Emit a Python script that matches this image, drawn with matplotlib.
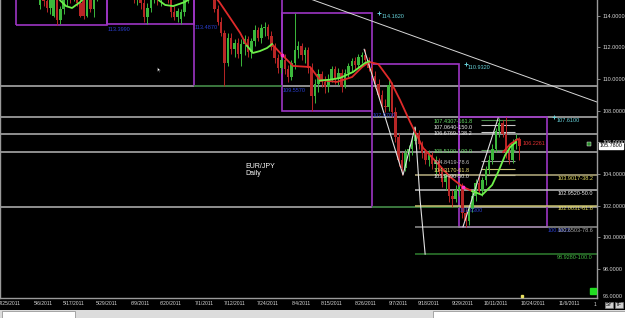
import matplotlib
matplotlib.use('Agg')
import matplotlib.pyplot as plt
import matplotlib.transforms as mtransforms
from matplotlib.patches import Rectangle
import pandas as pd

plt.rcParams['font.family'] = ['Liberation Sans', 'DejaVu Sans']

# daily bars, Sunday..Friday sessions (no Saturday)
all_days = pd.date_range('2011-04-21', '2011-11-20', freq='D')
bar_dates = all_days[all_days.dayofweek != 5]
first_bar = 11

opens = [116.6, 114.7, 115.8, 114.9, 114.5, 114.0, 115.2, 113.7, 114.4, 115.0,
         115.5, 115.1, 115.7, 114.8, 115.1, 114.0, 115.0, 114.4, 115.4, 115.9,
         116.4, 116.8, 116.5, 117.3, 117.6, 117.1, 116.7, 117.0, 116.1, 115.7,
         115.3, 115.8, 114.8, 113.9, 114.5, 115.2, 115.6, 115.0, 115.5, 115.8,
         115.0, 114.2, 113.9, 113.8, 114.2, 115.0, 115.7, 116.3, 116.8, 117.1,
         116.8, 116.3, 115.8, 115.4, 114.4, 113.6, 112.9, 111.0, 112.6, 111.9,
         112.3, 111.6, 112.2, 112.5, 111.7, 112.4, 113.1, 112.6, 113.2, 113.3,
         112.7, 112.0, 111.3, 110.7, 111.2, 110.6, 110.1, 111.0, 111.8, 112.1,
         111.5, 111.8, 110.7, 108.9, 109.7, 110.3, 109.8, 109.5, 110.0, 110.6,
         110.0, 110.4, 109.5, 110.4, 110.8, 111.1, 110.9, 111.4, 111.5, 111.2,
         110.7, 110.2, 109.7, 109.0, 108.3, 108.2, 109.6, 107.9, 106.3, 104.9,
         104.4, 105.3, 105.6, 106.1, 106.6, 105.9, 105.3, 104.9, 105.2, 104.6,
         104.8, 104.1, 103.5, 103.9, 102.6, 102.4, 103.0, 103.2, 101.5, 101.0,
         101.8, 102.6, 103.4, 102.9, 103.6, 104.3, 104.9, 105.6, 106.7, 107.2,
         106.5, 105.3, 104.9, 105.9, 106.2]
highs = [117.2, 116.0, 116.2, 115.3, 115.6, 115.5, 115.5, 114.6, 115.3, 115.8,
         115.9, 116.0, 116.0, 115.2, 115.4, 115.3, 115.4, 115.6, 116.2, 116.7,
         117.0, 117.4, 117.6, 117.9, 118.0, 117.6, 117.3, 117.2, 116.6, 116.2,
         116.0, 116.0, 115.1, 114.8, 115.4, 115.9, 115.8, 115.8, 116.0, 116.0,
         115.3, 114.6, 114.5, 114.4, 115.2, 115.9, 116.6, 117.0, 117.4, 117.6,
         117.2, 116.6, 116.1, 115.6, 114.7, 113.9, 113.1, 112.9, 112.9, 112.5,
         112.6, 112.5, 112.8, 112.7, 112.6, 113.4, 113.3, 113.5, 113.6, 113.5,
         113.0, 112.3, 111.6, 111.5, 111.6, 110.9, 111.2, 114.16, 112.4, 112.3,
         112.0, 112.0, 111.0, 110.0, 110.6, 110.5, 110.2, 110.3, 110.8, 110.8,
         110.7, 110.6, 110.6, 111.0, 111.3, 111.4, 111.6, 111.7, 111.87, 111.4,
         111.0, 110.5, 110.0, 109.3, 108.7, 110.0, 109.8, 108.2, 106.6, 105.4,
         105.6, 105.8, 106.4, 106.96, 106.8, 106.1, 105.6, 105.5, 105.4, 105.1,
         105.0, 104.4, 104.2, 104.0, 103.0, 103.3, 103.5, 103.4, 101.8, 102.0,
         102.9, 103.7, 103.9, 103.8, 104.5, 105.2, 105.9, 106.9, 107.5, 107.4,
         107.61, 105.8, 106.2, 106.5, 106.3]
lows = [116.0, 114.4, 114.6, 114.2, 114.1, 113.9, 113.4, 113.5, 114.1, 114.6,
        114.8, 114.9, 114.6, 113.9, 113.8, 113.9, 114.2, 113.9, 114.9, 115.5,
        115.9, 116.2, 116.3, 116.9, 116.9, 116.5, 116.2, 115.9, 115.4, 114.8,
        114.7, 114.4, 113.6, 113.5, 114.2, 114.8, 114.7, 114.6, 115.1, 114.8,
        113.9, 113.7, 113.6, 113.487, 114.0, 114.8, 115.4, 116.0, 116.4, 116.5,
        116.0, 115.5, 115.1, 114.2, 113.4, 112.7, 109.557, 110.8, 111.6, 111.4,
        111.3, 110.8, 111.5, 111.4, 111.3, 112.1, 112.4, 112.3, 112.7, 112.5,
        111.8, 111.0, 110.4, 110.4, 110.3, 109.8, 109.9, 110.6, 111.3, 111.2,
        111.0, 110.4, 107.97, 108.5, 109.2, 109.5, 109.1, 109.2, 109.8, 109.7,
        109.6, 109.2, 109.4, 110.1, 110.5, 110.6, 110.7, 111.0, 111.0, 110.5,
        109.9, 109.4, 108.8, 108.1, 107.9, 108.0, 107.6, 106.0, 104.5, 103.93,
        104.2, 104.8, 105.2, 105.9, 105.6, 105.0, 104.6, 104.5, 104.3, 104.0,
        103.9, 103.2, 103.0, 102.2, 101.93, 102.2, 102.6, 101.2, 100.6623, 100.8,
        101.6, 102.3, 102.7, 102.6, 103.3, 104.0, 104.6, 105.4, 106.3, 106.3,
        105.0, 104.6, 104.7, 105.6, 104.9]
closes = [116.3, 115.8, 114.9, 114.5, 115.3, 115.2, 113.7, 114.4, 115.0, 115.5,
          115.1, 115.7, 114.8, 114.0, 114.0, 115.0, 114.4, 115.4, 115.9, 116.4,
          116.8, 116.5, 117.3, 117.6, 117.1, 116.7, 117.0, 116.1, 115.7, 115.3,
          115.8, 114.8, 113.9, 114.5, 115.2, 115.6, 115.0, 115.5, 115.8, 115.0,
          114.2, 113.9, 114.3, 114.2, 115.0, 115.7, 116.3, 116.8, 117.1, 116.8,
          116.3, 115.8, 115.4, 114.4, 113.6, 112.9, 111.0, 112.6, 111.9, 112.3,
          111.6, 112.2, 112.5, 111.7, 112.4, 113.1, 112.6, 113.2, 113.3, 112.7,
          112.0, 111.3, 110.7, 111.2, 110.6, 110.1, 111.0, 111.8, 112.1, 111.5,
          111.8, 110.7, 108.9, 109.7, 110.3, 109.8, 109.5, 110.0, 110.6, 110.0,
          110.4, 109.5, 110.4, 110.8, 111.1, 110.9, 111.4, 111.5, 111.2, 110.7,
          110.2, 109.7, 109.0, 108.3, 108.2, 109.6, 107.9, 106.3, 104.9, 104.4,
          105.3, 105.6, 106.1, 106.6, 105.9, 105.3, 104.9, 105.2, 104.6, 104.8,
          104.1, 103.5, 103.9, 102.6, 102.4, 103.0, 103.2, 101.5, 101.0, 101.8,
          102.6, 103.4, 102.9, 103.6, 104.3, 104.9, 105.6, 106.7, 107.2, 106.5,
          105.3, 104.9, 105.9, 106.2, 105.78]

# moving average, green when rising, red when falling
ma_green = [
    ([16.5, 18.0, 19.7, 21.5, 23.9, 25.5], [115.4, 114.95, 114.6, 114.48, 114.85, 115.2]),
    ([46.0, 47.5, 49.3, 51.7, 55.2, 57.8], [115.4, 114.95, 114.67, 114.6, 114.86, 115.2]),
    ([73.7, 75.5, 77.6, 79.7, 81.2], [112.1, 111.64, 111.76, 111.95, 112.2]),
    ([95.5, 98.5, 101.5, 105.4, 109.0, 110.2], [109.9, 109.95, 110.06, 110.44, 111.01, 111.1]),
    ([140.9, 143.9, 146.9, 148.7, 150.8, 152.3, 154.0], [102.92, 102.67, 103.3, 104.12, 105.19, 105.7, 106.01]),
]
ma_red = [
    ([63.0, 65.5, 68.7, 71.7, 73.7], [115.5, 114.85, 113.85, 112.9, 112.1]),
    ([81.2, 84.2, 87.5, 92.6, 95.5, 100.6, 105.1, 108.1, 110.2, 112.9, 116.4, 119.4,
      122.4, 126.3, 130.5, 134.4, 138.2, 140.9],
     [112.2, 111.51, 110.82, 110.75, 109.93, 109.81, 110.12, 110.75, 111.07, 110.94,
      109.93, 108.67, 107.28, 105.64, 104.69, 103.8, 103.17, 102.92]),
    ([150.2, 152.3, 154.6], [105.38, 105.88, 106.2]),
]
ma_last = 106.2261

zigzag = [([108.7, 120.3, 123.9, 125.4, 126.9], [111.87, 103.93, 106.96, 102.35, 98.93]),
          ([138.2, 148.7], [100.66, 107.53])]
trend_x = [85.0, 178.2]
trend_y = [115.63, 108.54]

hlevels = [109.557, 107.61, 106.50, 105.41, 101.93]

box_left = [4.8, 32.0, 57.9, 84.2, 111.1, 137.0]
box_right = [32.0, 57.9, 84.2, 111.1, 137.0, 163.3]
box_low = [113.399, 113.487, 109.557, 107.97, 101.93, 100.6623]
box_high = [118.5, 117.8, 117.6, 114.162, 110.932, 107.61]
green_bottom = [False, False, True, False, True, False]

fib_a_pct = ['161.8', '150.0', '138.2', '100.0', '78.6', '61.8', '50.0']
fib_a_lvl = [107.4307, 107.0640, 106.6769, 105.5100, 104.8419, 104.3170, 103.9490]
fib_a_txt = ['#66dd66', '#e8e8e8', '#e8e8e8', '#66dd66', '#bbbbbb', '#eee070', '#e8e8e8']
fib_a_line = ['#4c8c4c', '#c8c8c8', '#c8c8c8', '#4c8c4c', '#9a9a9a', '#c8c070', '#c8c8c8']

fib_b_pct = ['38.2', '50.0', '61.8', '78.6', '100.0']
fib_b_lvl = [103.9017, 102.9520, 102.0031, 100.6503, 98.9280]
fib_b_txt = ['#e6dc60', '#e8e8e8', '#e6dc60', '#aaaaaa', '#44bb44']
fib_b_line = ['#b8b080', '#c0c0c0', '#c8c070', '#909090', '#2f7f2f']

date_labels = ['4/25/2011', '5/6/2011', '5/17/2011', '5/29/2011', '6/9/2011', '6/20/2011',
               '7/1/2011', '7/12/2011', '7/24/2011', '8/4/2011', '8/15/2011', '8/26/2011',
               '9/7/2011', '9/18/2011', '9/29/2011', '10/11/2011', '10/24/2011', '11/6/2011']
price_ticks = [98, 100, 102, 104, 106, 108, 110, 112, 114]
last_price = 105.78

W, H = 625, 318
fig = plt.figure(figsize=(6.25, 3.18), dpi=100, facecolor='black')
ax = fig.add_axes([0, 1 - 298 / H, 597 / W, 298 / H])
ax.set_facecolor('black')
ax.set_xlim(0, 178.2)
ax.set_ylim(96.16, 114.985)

# horizontal levels
for lv in hlevels:
    ax.axhline(lv, color='#a8a8a8', lw=1.2, zorder=1)

# range boxes
purple = '#9d35c4'
for i in range(len(box_left)):
    ax.add_patch(Rectangle((box_left[i], box_low[i]), box_right[i] - box_left[i],
                           box_high[i] - box_low[i], fill=False, ec=purple, lw=1.2, zorder=1.5))
    if green_bottom[i]:
        ax.hlines(box_low[i], box_left[i], box_right[i], color='#2f7a2f', lw=1.3, zorder=1.6)
    ax.text(box_right[i] + 0.2, box_low[i] - 0.1, '%.4f' % box_low[i], color='#2b3fd0',
            fontsize=4, ha='left', va='top', zorder=6)
    if box_high[i] < 115:
        ax.plot(box_right[i] + 2.1, box_high[i], marker='+', ms=2.5, mew=0.7,
                color='#66d0d8', zorder=6)
        ax.text(box_right[i] + 2.7, box_high[i] - 0.08, '%.4f' % box_high[i], color='#66d0d8',
                fontsize=4, ha='left', va='top', zorder=6)

# fib groups
for lv, pct, tc, lc in zip(fib_a_lvl, fib_a_pct, fib_a_txt, fib_a_line):
    ax.hlines(lv, 143.5, 153.8, color=lc, lw=0.8, zorder=1.7)
    ax.text(129.3, lv + 0.04, '%.4f-%s' % (lv, pct), color=tc, fontsize=4,
            ha='left', va='top', zorder=6)
for lv, pct, tc, lc in zip(fib_b_lvl, fib_b_pct, fib_b_txt, fib_b_line):
    ax.hlines(lv, 123.9, 178.2, color=lc, lw=1.1, zorder=1.7)
    ax.text(177.0, lv - 0.06, '%.4f-%s' % (lv, pct), color=tc, fontsize=4,
            ha='right', va='top', zorder=6)

# trend line and zigzag
ax.plot(trend_x, trend_y, color='#d8d8d8', lw=0.7, zorder=2)
for zx, zy in zigzag:
    ax.plot(zx, zy, color='#e0e0e0', lw=0.8, zorder=3.5)

# candles
green_c, red_c = '#3cb83c', '#b82626'
xs = list(range(first_bar, first_bar + len(closes)))
cols = [green_c if c >= o else red_c for o, c in zip(opens, closes)]
ax.vlines(xs, lows, highs, colors=cols, lw=0.7, zorder=3)
bottoms = [min(o, c) for o, c in zip(opens, closes)]
heights = [max(abs(c - o), 0.04) for o, c in zip(opens, closes)]
ax.bar(xs, heights, bottom=bottoms, width=0.75, color=cols, lw=0, zorder=3.2)

# moving average
for mx, my in ma_red:
    ax.plot(mx, my, color='#e02a2a', lw=1.3, zorder=4)
for mx, my in ma_green:
    ax.plot(mx, my, color='#6ef04a', lw=1.3, zorder=4.1)
ax.plot([84.2, 138.2], [111.51, 103.17], ls='none', marker='o', ms=1.8, color='#ff33cc', zorder=4.2)
ax.text(156.1, 105.95, '%.4f' % ma_last, color='#e03030', fontsize=4, ha='left', va='center', zorder=6)

ax.text(73.1, 104.69, 'EUR/JPY\nDaily', color='white', fontsize=5, ha='left', va='top',
        linespacing=1.05, zorder=6)

# mouse pointer left in the screenshot
ax.plot(46.9, 110.73, marker=[(0, 0), (0, -1), (0.27, -0.74), (0.47, -1.15), (0.6, -1.08),
                             (0.41, -0.68), (0.75, -0.68), (0, 0)],
        ms=7, color='white', mec='black', mew=0.3, zorder=7)

# axes dressing
for s in ['left', 'right', 'bottom']:
    ax.spines[s].set_color('#9a9a9a')
    ax.spines[s].set_linewidth(1.0)
ax.spines['top'].set_visible(False)
ax.yaxis.tick_right()
ax.set_yticks(price_ticks)
ax.set_yticklabels(['%.4f' % p for p in price_ticks])
ax.tick_params(axis='y', colors='#9a9a9a', labelcolor='#d8d8d8', labelsize=3.9,
               length=2, width=0.6, pad=2)
tick_pos = [bar_dates.get_loc(pd.Timestamp(d)) for d in pd.to_datetime(date_labels, format='%m/%d/%Y')]
ax.set_xticks(tick_pos)
ax.set_xticklabels(date_labels)
ax.tick_params(axis='x', colors='#9a9a9a', labelcolor='#d8d8d8', labelsize=3.6,
               length=0, pad=2)

blend = mtransforms.blended_transform_factory(ax.transAxes, ax.transData)
ax.text(1.004, last_price, '%.4f' % last_price, transform=blend, fontsize=3.9, color='black',
        ha='left', va='center', clip_on=False, zorder=8,
        bbox=dict(facecolor='white', edgecolor='white', pad=0.5))
ax.plot(175.8, 105.88, marker='s', ms=3, color='#2c8c2c', mec='white', mew=0.3, zorder=6)
ax.plot(177.0, 96.62, marker='s', ms=4.5, color='#22dd22', zorder=6, clip_on=False)
ax.plot(155.8, 96.3, marker='s', ms=2, color='#e8e060', zorder=6, clip_on=False)

fig.text(603 / W, 1 - 297 / H, '96.0000', color='#d8d8d8', fontsize=3.9, ha='left', va='center')
fig.text(595 / W, 1 - 304 / H, '1', color='#d8d8d8', fontsize=3.6, ha='center', va='center')
for lbl, x0 in [('SY', 606), ('TF', 616)]:
    fig.text(x0 / W, 1 - 305 / H, lbl, color='black', fontsize=3.6, ha='left', va='center',
             bbox=dict(facecolor='#d0d0d0', edgecolor='#808080', pad=0.5, lw=0.4))

# scroll strip at the bottom
fig.patches.append(Rectangle((0, 0), 1, 8 / H, transform=fig.transFigure,
                             facecolor='#dcdcdc', edgecolor='none'))
fig.patches.append(Rectangle((2 / W, 0), 73 / W, 7 / H, transform=fig.transFigure,
                             facecolor='white', edgecolor='#888888', lw=0.5))
fig.patches.append(Rectangle((433 / W, 0), 192 / W, 7 / H, transform=fig.transFigure,
                             facecolor='white', edgecolor='#888888', lw=0.5))

fig.savefig('out.png', dpi=100, facecolor='black')
